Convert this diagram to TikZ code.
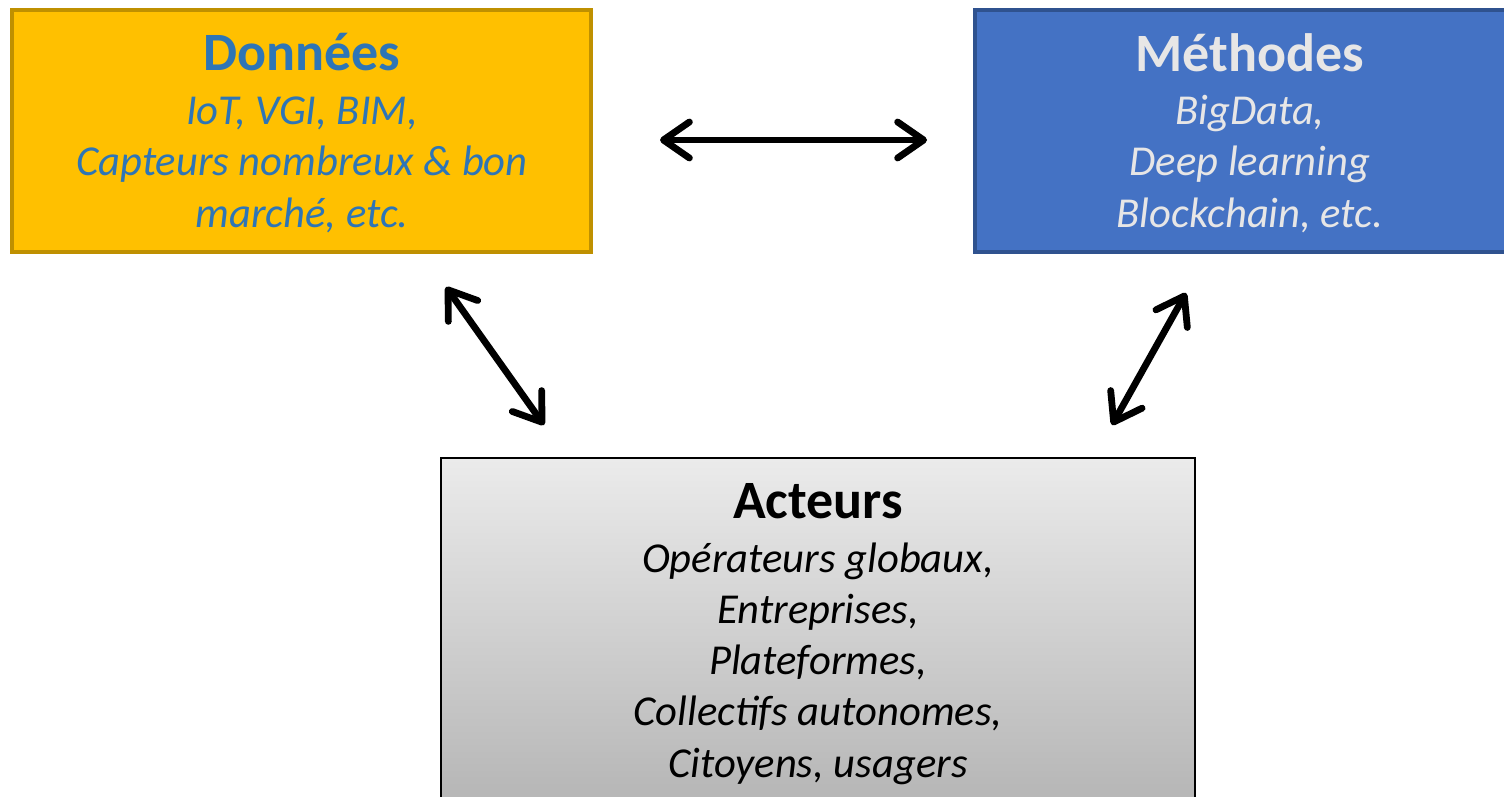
\documentclass[tikz,border=0pt]{standalone}
\usepackage{fontspec}
\setmainfont{Carlito}
\usetikzlibrary{arrows.meta}
\definecolor{goldfill}{HTML}{FFC000}
\definecolor{goldline}{HTML}{BF9000}
\definecolor{donblue}{HTML}{2E75B6}
\definecolor{bluefill}{HTML}{4472C4}
\definecolor{blueline}{HTML}{2F528F}
\definecolor{lighttxt}{HTML}{E7E6E6}
\definecolor{greytop}{HTML}{EBEBEB}
\definecolor{greybot}{HTML}{B0B0B0}
\tikzset{
  box/.style={rectangle, inner sep=0pt, outer sep=0pt},
  titletxt/.style={anchor=base, inner sep=0pt, font=\fontsize{27}{32}\selectfont\bfseries},
  bodytxt/.style={anchor=base, inner sep=0pt, font=\fontsize{21.3}{26}\selectfont\itshape},
  link/.style={line width=3.4pt, line cap=round, {Straight Barb[length=13pt,width=18pt,round]}-{Straight Barb[length=13pt,width=18pt,round]}}
}
\begin{document}
\begin{tikzpicture}[x=0.5pt,y=-0.5pt]
\useasboundingbox (0,0) rectangle (1504,797);
\clip (0,0) rectangle (1504,797);
% boxes
\node[box, draw=goldline, fill=goldfill, line width=1.8pt, minimum width=289.5pt, minimum height=121pt] (don) at (301.5,131) {};
\node[box, draw=blueline, fill=bluefill, line width=1.8pt, minimum width=275pt, minimum height=121pt] (met) at (1250,131) {};
\node[box, draw=black, line width=0.8pt, top color=greytop, bottom color=greybot, minimum width=377pt, minimum height=190pt] (act) at (818,648) {};
% Données
\node[titletxt, text=donblue] (donT) at (302,71) {Données};
\node[bodytxt, text=donblue] (don1) at (302,125) {IoT, VGI, BIM,};
\node[bodytxt, text=donblue] (don2) at (302,176) {Capteurs nombreux \& bon};
\node[bodytxt, text=donblue] (don3) at (302,227) {marché, etc.};
% Méthodes
\node[titletxt, text=lighttxt] (metT) at (1250,72) {Méthodes};
\node[bodytxt, text=lighttxt] (met1) at (1250,125) {BigData,};
\node[bodytxt, text=lighttxt] (met2) at (1250,176) {Deep learning};
\node[bodytxt, text=lighttxt] (met3) at (1250,227) {Blockchain, etc.};
% Acteurs
\node[titletxt, text=black] (actT) at (818,518) {Acteurs};
\node[bodytxt, text=black] (act1) at (818,572) {Opérateurs globaux,};
\node[bodytxt, text=black] (act2) at (818,623) {Entreprises,};
\node[bodytxt, text=black] (act3) at (818,674) {Plateformes,};
\node[bodytxt, text=black] (act4) at (818,725) {Collectifs autonomes,};
\node[bodytxt, text=black] (act5) at (818,777) {Citoyens, usagers};
% arrow ends
\coordinate (hL) at (660,140);
\coordinate (hR) at (927,140);
\coordinate (lT) at (446,287);
\coordinate (lB) at (544,425);
\coordinate (rT) at (1186,293);
\coordinate (rB) at (1112,425);
\draw[link] (hL) -- (hR);
\draw[link] (lT) -- (lB);
\draw[link] (rT) -- (rB);
\end{tikzpicture}
\end{document}
